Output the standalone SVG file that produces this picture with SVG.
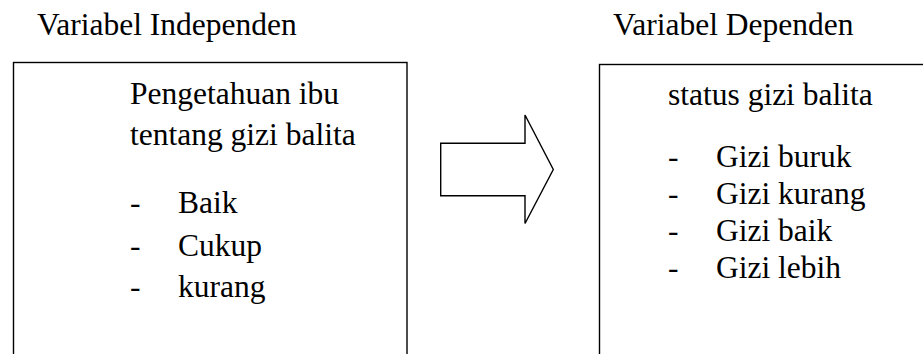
<svg xmlns="http://www.w3.org/2000/svg" width="923" height="354" viewBox="0 0 923 354">
  <style>
    text { font-family: 'Liberation Serif', 'Times New Roman', Times, serif; font-size: 31.5px; fill: #000; }
    .box { fill: none; stroke: #000; stroke-width: 1.4; }
  </style>
  <rect x="0" y="0" width="923" height="354" fill="#fff"/>

  <!-- Independent variable -->
  <g id="independen" font-family="Liberation Serif">
    <text x="37" y="35">Variabel Independen</text>
    <rect class="box" x="13.5" y="62.5" width="393.5" height="320"/>
    <text x="130" y="104">Pengetahuan ibu</text>
    <text x="130" y="145">tentang gizi balita</text>
    <text x="130" y="213">-</text>
    <text x="178" y="213">Baik</text>
    <text x="130" y="256">-</text>
    <text x="178" y="256">Cukup</text>
    <text x="130" y="297">-</text>
    <text x="178" y="297">kurang</text>
  </g>

  <!-- Dependent variable -->
  <g id="dependen" font-family="Liberation Serif">
    <text x="613" y="35">Variabel Dependen</text>
    <rect class="box" x="599.5" y="64.5" width="400" height="320"/>
    <text x="668" y="105">status gizi balita</text>
    <text x="668" y="167">-</text>
    <text x="716" y="167">Gizi buruk</text>
    <text x="668" y="204">-</text>
    <text x="716" y="204">Gizi kurang</text>
    <text x="668" y="241">-</text>
    <text x="716" y="241">Gizi baik</text>
    <text x="668" y="278">-</text>
    <text x="716" y="278">Gizi lebih</text>
  </g>

  <!-- Block arrow between the two variables -->
  <g id="connectors">
    <polygon class="box" points="440.7,143.3 525,143.3 525,115 553.3,169.5 525,223.5 525,195.7 440.7,195.7"/>
  </g>
</svg>
